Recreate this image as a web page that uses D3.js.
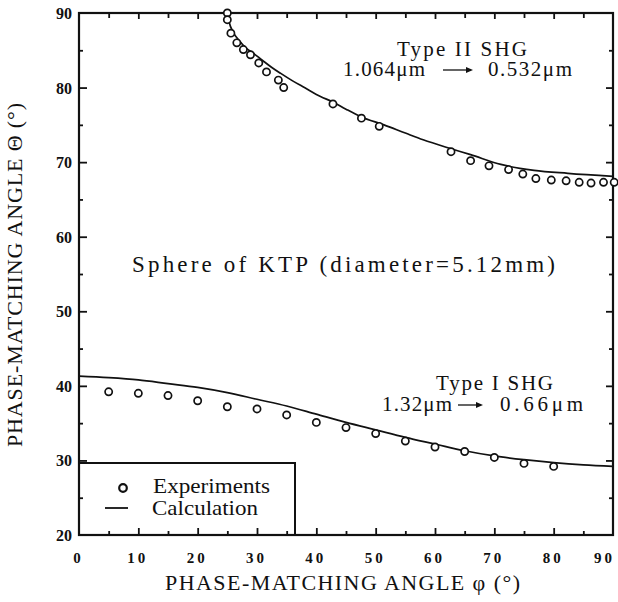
<!DOCTYPE html>
<html><head><meta charset="utf-8">
<script src="https://cdn.jsdelivr.net/npm/d3@7"></script>
<style>body{margin:0;background:#fff} svg{display:block}</style>
</head><body><svg id="c" width="618" height="602"></svg>
<script>
// ---- data ----
const phiTicks = [0,10,20,30,40,50,60,70,80,90];
const phiMinor = [5,15,25,35,45,55,65,75,85];
const thetaTicks = [20,30,40,50,60,70,80,90];
const thetaMinor = [25,35,45,55,65,75,85];

const typeIIExp = [[25,90],[25,89.1],[25.6,87.3],[26.6,86.0],[27.7,85.1],[28.9,84.4],[30.3,83.3],[31.6,82.1],[33.6,81.0],[34.5,80.0],
  [42.8,77.8],[47.6,75.9],[50.6,74.8],[62.7,71.4],[66.0,70.2],[69.1,69.5],[72.4,69.0],[74.8,68.4],[77.0,67.8],[79.6,67.6],
  [82.1,67.5],[84.3,67.3],[86.3,67.2],[88.4,67.3],[90.2,67.3]];
const typeIICalc = [[25,90],[25.3,88.8],[26,87.4],[27,86.3],[28,85.4],[29.4,84.6],[31,83.6],[32.5,82.7],[34,81.9],[36,80.9],
  [38,80.0],[40.7,78.8],[42.7,78.1],[45,77.1],[47.5,76.1],[51.4,75.0],[55,73.9],[58,73.0],[62.7,71.8],[66,71.0],
  [71.1,69.7],[76.7,68.9],[82.4,68.5],[90,68.1]];
const typeIExp = [[5,39.2],[10,39.0],[15,38.7],[20,38.0],[25,37.2],[30,36.9],[35,36.1],[40,35.1],[45,34.4],[50,33.6],
  [55,32.6],[60,31.8],[65,31.2],[70,30.4],[75,29.6],[80,29.2]];
const typeICalc = [[0,41.3],[5,41.1],[10,40.8],[15,40.3],[20,39.8],[25,39.1],[30,38.2],[35,37.3],[40,36.2],[45,35.1],
  [50,34.1],[55,33.1],[60,32.2],[65,31.3],[70,30.6],[75,30.1],[80,29.7],[85,29.4],[90,29.2]];

const legendLabels = ["Experiments","Calculation"];
const xTitle = "PHASE-MATCHING ANGLE \u03C6 (\u00B0)";
const yTitle = "PHASE-MATCHING ANGLE \u0398 (\u00B0)";

// ---- drawing ----
const svg = d3.select("#c");
const serif = "'Liberation Serif','DejaVu Serif',serif";
const L=79, R=613, T=13, B=535;
const x = d3.scaleLinear().domain([0,90]).range([L,R]);
const y = d3.scaleLinear().domain([20,90]).range([B,T]);

svg.append("rect").attr("width",618).attr("height",602).attr("fill","#fff");

const ink = "#111";
function tickAxis(axisFn, scale, vals, size, tr){
  const g = svg.append("g").attr("transform",tr)
    .call(axisFn(scale).tickValues(vals).tickSize(size).tickFormat(""));
  g.select(".domain").remove();
  g.selectAll("line").attr("stroke",ink).attr("stroke-width",1.8);
  return g;
}
tickAxis(d3.axisBottom, x, phiTicks.slice(1,-1), -7, `translate(0,${B})`);
tickAxis(d3.axisBottom, x, phiMinor, -4, `translate(0,${B})`);
tickAxis(d3.axisTop, x, phiTicks.slice(1,-1), -6, `translate(0,${T})`);
tickAxis(d3.axisTop, x, phiMinor, -5, `translate(0,${T})`);
tickAxis(d3.axisLeft, y, thetaTicks.slice(1,-1), -8, `translate(${L},0)`);
tickAxis(d3.axisLeft, y, thetaMinor, -4, `translate(${L},0)`);
tickAxis(d3.axisRight, y, thetaTicks.slice(1,-1), -7, `translate(${R},0)`);
tickAxis(d3.axisRight, y, thetaMinor, -4, `translate(${R},0)`);

svg.append("rect").attr("x",L).attr("y",T).attr("width",R-L).attr("height",B-T)
  .attr("fill","none").attr("stroke",ink).attr("stroke-width",2.2);

// tick labels
svg.append("g").selectAll("text").data(phiTicks).join("text")
  .attr("x",d=>Math.min(x(d)-2, 603)).attr("y",563)
  .attr("text-anchor","middle").attr("font-family",serif).attr("font-weight","bold")
  .attr("font-size",15).attr("letter-spacing",d=>d>0?"3px":"0px")
  .attr("dx",d=>d>0?1.5:0)
  .attr("fill",ink).text(d=>d);
svg.append("g").selectAll("text").data(thetaTicks).join("text")
  .attr("x",72).attr("y",d=>y(d)+6)
  .attr("text-anchor","end").attr("font-family",serif).attr("font-weight","bold")
  .attr("font-size",16).attr("fill",ink).text(d=>d);

// axis titles
svg.append("text").attr("x",165).attr("y",590).attr("font-family",serif).attr("font-size",22)
  .attr("textLength",355).attr("lengthAdjust","spacing").attr("fill",ink).text(xTitle);
svg.append("text").attr("transform","translate(22,447) rotate(-90)").attr("font-family",serif).attr("font-size",22)
  .attr("textLength",344).attr("lengthAdjust","spacing").attr("fill",ink).text(yTitle);

// curves
const line = d3.line().x(d=>x(d[0])).y(d=>y(d[1])).curve(d3.curveMonotoneX);
[typeIICalc, typeICalc].forEach(s=>{
  svg.append("path").datum(s).attr("d",line).attr("fill","none").attr("stroke",ink).attr("stroke-width",1.7);
});
// experiment points
[typeIIExp, typeIExp].forEach(s=>{
  svg.append("g").selectAll("circle").data(s).join("circle")
    .attr("cx",d=>x(d[0])).attr("cy",d=>y(d[1])).attr("r",3.6)
    .attr("fill","#fff").attr("stroke",ink).attr("stroke-width",1.7);
});

// legend box
svg.append("path").attr("d",`M${L},463H295V${B}`).attr("fill","none").attr("stroke",ink).attr("stroke-width",2);
svg.append("circle").attr("cx",123).attr("cy",488).attr("r",3.8).attr("fill","#fff").attr("stroke",ink).attr("stroke-width",2.2);
svg.append("line").attr("x1",105).attr("x2",128).attr("y1",508).attr("y2",508).attr("stroke",ink).attr("stroke-width",1.8);
svg.append("text").attr("x",153).attr("y",493).attr("font-family",serif).attr("font-size",21)
  .attr("textLength",117).attr("lengthAdjust","spacingAndGlyphs").attr("fill",ink).text(legendLabels[0]);
svg.append("text").attr("x",152).attr("y",515).attr("font-family",serif).attr("font-size",21)
  .attr("textLength",106).attr("lengthAdjust","spacingAndGlyphs").attr("fill",ink).text(legendLabels[1]);

// annotations
function txt(s,x0,yb,len,size){
  svg.append("text").attr("x",x0).attr("y",yb).attr("font-family",serif).attr("font-size",size)
    .attr("textLength",len).attr("lengthAdjust","spacing").attr("fill",ink).text(s);
}
function arrow(x1,x2,yy){
  svg.append("line").attr("x1",x1).attr("x2",x2-2).attr("y1",yy).attr("y2",yy).attr("stroke",ink).attr("stroke-width",1.3);
  svg.append("path").attr("d",`M${x2-7},${yy-3}L${x2},${yy}L${x2-7},${yy+3}Z`).attr("fill",ink);
}
txt("Type II SHG",397,56,130,21);
txt("1.064\u03BCm",343,76,82,21);
arrow(443,473,70);
txt("0.532\u03BCm",488,76,84,21);
txt("Sphere of KTP (diameter=5.12mm)",132,272,423,23);
txt("Type I SHG",436,390,117,21);
txt("1.32\u03BCm",382,411,70,21);
arrow(458,483,405);
txt("0.66\u03BCm",500,411,83,21);
</script></body></html>
